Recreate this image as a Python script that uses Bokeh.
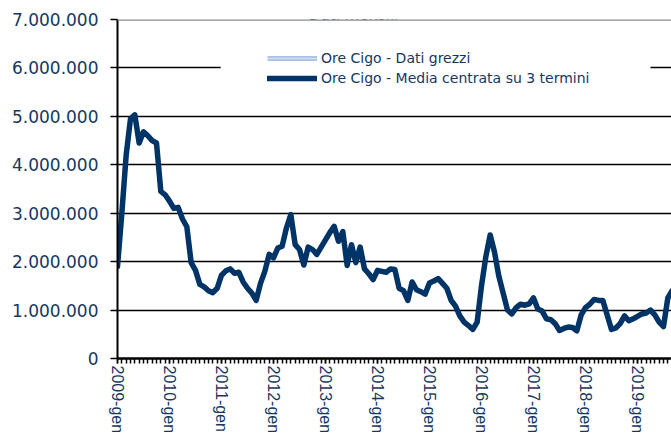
from bokeh.plotting import figure
from bokeh.models import (Range1d, FixedTicker, Legend, LegendItem, ColumnDataSource,
                          Span, BoxAnnotation, Label)
from bokeh.embed import file_html
from bokeh.resources import INLINE

# ---- data -------------------------------------------------------------
mesi = ["gen", "feb", "mar", "apr", "mag", "giu", "lug", "ago", "set", "ott", "nov", "dic"]
anni = list(range(2009, 2020))

# Ore Cigo - media centrata su 3 termini (ore), monthly from 2009-gen
ore_media = [
    1900000, 3000000, 4200000, 4950000, 5030000, 4450000, 4680000, 4600000, 4500000, 4450000,
    3450000, 3380000, 3250000, 3100000, 3120000, 2880000, 2720000, 1980000, 1820000, 1530000,
    1480000, 1400000, 1360000, 1450000, 1720000, 1810000, 1850000, 1760000, 1780000, 1580000,
    1450000, 1350000, 1200000, 1550000, 1800000, 2150000, 2080000, 2280000, 2320000, 2700000,
    2970000, 2350000, 2250000, 1930000, 2300000, 2250000, 2150000, 2300000, 2450000, 2600000,
    2730000, 2420000, 2620000, 1920000, 2350000, 1980000, 2300000, 1850000, 1750000, 1630000,
    1820000, 1800000, 1780000, 1850000, 1840000, 1450000, 1400000, 1200000, 1580000, 1420000,
    1380000, 1330000, 1560000, 1600000, 1650000, 1550000, 1450000, 1200000, 1080000, 880000,
    750000, 680000, 600000, 750000, 1500000, 2100000, 2550000, 2200000, 1700000, 1350000,
    1000000, 920000, 1050000, 1120000, 1100000, 1130000, 1250000, 1020000, 980000, 820000,
    800000, 720000, 580000, 620000, 650000, 640000, 570000, 900000, 1050000, 1120000,
    1220000, 1200000, 1200000, 900000, 600000, 630000, 720000, 880000, 780000, 820000,
    870000, 920000, 940000, 1000000, 900000, 750000, 660000, 1250000, 1400000,
]
categorie = [f"{a}-{m}" for a in anni for m in mesi][:len(ore_media)]
indice = list(range(len(ore_media)))

y_ticks = [0, 1000000, 2000000, 3000000, 4000000, 5000000, 6000000, 7000000]
y_tick_labels = ["0", "1.000.000", "2.000.000", "3.000.000", "4.000.000",
                 "5.000.000", "6.000.000", "7.000.000"]

titolo = "Dati mensili"
serie_grezzi = "Ore Cigo - Dati grezzi"
serie_media = "Ore Cigo - Media centrata su 3 termini"

# ---- styling ------------------------------------------------------------
NAVY = "#17375E"
LINE = "#003366"

p = figure(width=671, height=436, output_backend="svg", toolbar_location=None,
           x_range=Range1d(0, 127.85), y_range=Range1d(0, 7000000),
           min_border_left=117, min_border_right=0, min_border_top=19,
           min_border_bottom=77)
p.outline_line_color = None
p.background_fill_color = "white"
p.border_fill_color = "white"

# grid
p.xgrid.visible = False
p.ygrid.ticker = FixedTicker(ticks=y_ticks[1:-1])
p.ygrid.grid_line_color = "black"
p.ygrid.grid_line_width = 1.5
p.add_layout(Span(location=y_ticks[-1], dimension="width", line_color="#8C8C8C",
                  line_width=2.5))

# y axis
p.yaxis.ticker = FixedTicker(ticks=y_ticks)
p.yaxis.major_label_overrides = {t: l for t, l in zip(y_ticks, y_tick_labels)}
p.yaxis.axis_line_color = "black"
p.yaxis.axis_line_width = 2
p.yaxis.major_tick_line_color = "black"
p.yaxis.major_tick_line_width = 1.5
p.yaxis.major_tick_out = 7
p.yaxis.major_tick_in = 0
p.yaxis.minor_tick_line_color = None
p.yaxis.major_label_standoff = 12
p.yaxis.major_label_text_font = "DejaVu Sans"
p.yaxis.major_label_text_font_size = "17px"
p.yaxis.major_label_text_color = NAVY

# x axis
major_x = [i for i in indice if categorie[i].endswith("-gen")]
p.xaxis.ticker = FixedTicker(ticks=major_x, minor_ticks=indice)
p.xaxis.major_label_overrides = {i: categorie[i] for i in major_x}
p.xaxis.major_label_orientation = "vertical"
p.xaxis.axis_line_color = "black"
p.xaxis.axis_line_width = 2.5
p.xaxis.major_tick_line_color = "black"
p.xaxis.major_tick_line_width = 1.5
p.xaxis.major_tick_out = 5
p.xaxis.major_tick_in = 0
p.xaxis.minor_tick_line_color = "black"
p.xaxis.minor_tick_line_width = 1.5
p.xaxis.minor_tick_out = 5
p.xaxis.minor_tick_in = 0
p.xaxis.major_label_standoff = 2
p.xaxis.major_label_text_font = "Liberation Sans"
p.xaxis.major_label_text_font_size = "16px"
p.xaxis.major_label_text_color = NAVY

# legend white backdrop
p.add_layout(BoxAnnotation(left=23.8, right=123.0, bottom=5350000, top=6610000,
                           fill_color="white", fill_alpha=1, line_color=None))

# series
src = ColumnDataSource(dict(x=indice, y=ore_media, cat=categorie))
nascosto = ColumnDataSource(dict(x=[float("nan")], y=[float("nan")]))
r_raw_a = p.line("x", "y", source=nascosto, line_width=5, line_color="#A9C2E6")
r_raw_b = p.line("x", "y", source=nascosto, line_width=1.5, line_color="white",
                 line_dash="1 1")
r_media = p.line("x", "y", source=src, line_width=5.5, line_color=LINE,
                 line_join="round", line_cap="round")

legend = Legend(items=[LegendItem(label=serie_grezzi, renderers=[r_raw_a, r_raw_b]),
                       LegendItem(label=serie_media, renderers=[r_media])],
                location=(150, 270), glyph_width=50, glyph_height=20, label_height=20,
                spacing=0, label_standoff=4, padding=10, margin=0,
                border_line_color=None, background_fill_color="white",
                background_fill_alpha=1, label_text_font="DejaVu Sans",
                label_text_font_size="14px", label_text_color=NAVY)
p.add_layout(legend)

# title at the top edge
p.add_layout(Label(x=54.5, y=7103000, text=titolo, text_align="center",
                   text_baseline="alphabetic", text_font="DejaVu Sans",
                   text_font_size="15px", text_color=NAVY))

open("out.html", "w").write(file_html(p, INLINE))
